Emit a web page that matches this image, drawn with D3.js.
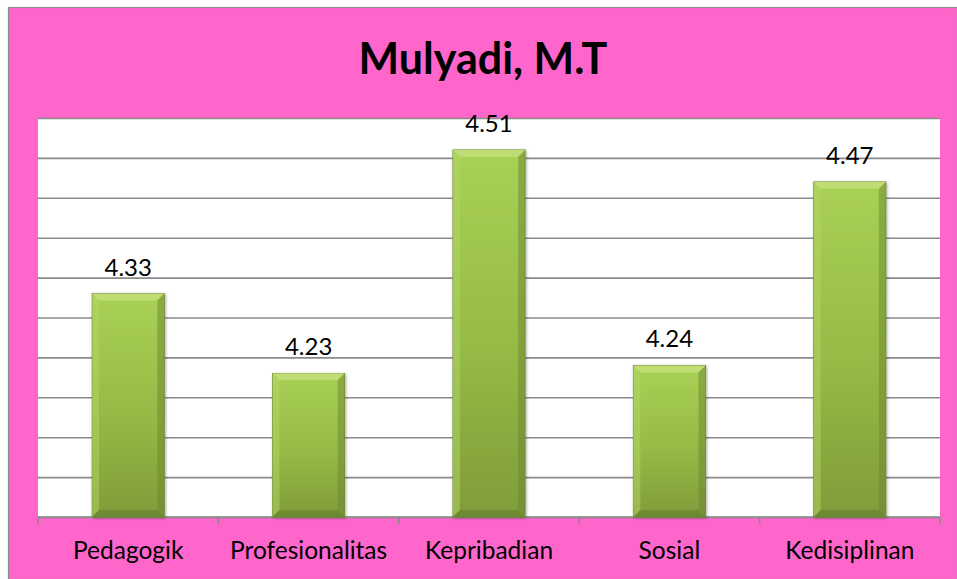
<!DOCTYPE html>
<html>
<head>
<meta charset="utf-8">
<script src="https://cdn.jsdelivr.net/npm/d3@7"></script>
<style>
    body { margin: 0; background: #fff; }
    text { font-family: Lato, "Open Sans", sans-serif; fill: #000; }
</style>
</head>
<body>
<svg id="chart"></svg>
<script>
const categories = ["Pedagogik", "Profesionalitas", "Kepribadian", "Sosial", "Kedisiplinan"];
const scores = [4.33, 4.23, 4.51, 4.24, 4.47];
const gridTicks = [4.05, 4.10, 4.15, 4.20, 4.25, 4.30, 4.35, 4.40, 4.45, 4.50, 4.55];
const chartTitle = "Mulyadi, M.T";

const W = 957, H = 579;
const plot = { left: 38, right: 940, top: 118, bottom: 517 };

const svg = d3.select("#chart")
    .attr("width", W)
    .attr("height", H);

// gradient for bars
const defs = svg.append("defs");
const grad = defs.append("linearGradient")
    .attr("id", "barGrad")
    .attr("x1", 0).attr("y1", 0).attr("x2", 0).attr("y2", 1);
grad.append("stop").attr("offset", "0%").attr("stop-color", "#a9d155");
grad.append("stop").attr("offset", "55%").attr("stop-color", "#95ba45");
grad.append("stop").attr("offset", "100%").attr("stop-color", "#7f9c3a");

const shadow = defs.append("filter").attr("id", "shadow")
    .attr("x", "-20%").attr("y", "-20%").attr("width", "140%").attr("height", "140%");
shadow.append("feDropShadow")
    .attr("dx", 1).attr("dy", 1).attr("stdDeviation", 1.5)
    .attr("flood-color", "#000").attr("flood-opacity", 0.35);

// background
svg.append("rect")
    .attr("x", 8.5).attr("y", 7.5)
    .attr("width", W - 8).attr("height", H - 7)
    .attr("fill", "#ff66cc")
    .attr("stroke", "#8c8c8c")
    .attr("stroke-width", 1.2);

svg.append("text")
    .attr("x", 483)
    .attr("y", 74)
    .attr("text-anchor", "middle")
    .attr("font-size", "43px")
    .attr("font-weight", "bold")
    .text(chartTitle);

svg.append("rect")
    .attr("x", plot.left).attr("y", plot.top)
    .attr("width", plot.right - plot.left)
    .attr("height", plot.bottom - plot.top)
    .attr("fill", "#fff");

let x = d3.scaleBand()
    .domain(categories)
    .range([plot.left, plot.right])
    .padding(0);

let y = d3.scaleLinear()
    .domain([4.05, 4.55])
    .range([plot.bottom, plot.top]);

// gridlines
svg.append("g")
    .attr("transform", "translate(" + plot.left + ",0)")
    .call(d3.axisLeft(y).tickValues(gridTicks).tickSize(-(plot.right - plot.left)).tickFormat(""))
    .call(g => g.select(".domain").remove())
    .call(g => g.selectAll(".tick line")
        .attr("stroke", "#8a8a8a")
        .attr("stroke-width", 1.6));

// x axis
const xAxis = svg.append("g")
    .attr("transform", "translate(0," + plot.bottom + ")");

xAxis.append("line")
    .attr("x1", plot.left).attr("x2", plot.right)
    .attr("stroke", "#8a8a8a")
    .attr("stroke-width", 1.6);

const edges = categories.map(d => x(d)).concat([plot.right]);
xAxis.selectAll(".edge")
    .data(edges)
    .enter()
    .append("line")
    .attr("x1", d => d).attr("x2", d => d)
    .attr("y1", 0).attr("y2", 7)
    .attr("stroke", "#8a8a8a")
    .attr("stroke-width", 1.6);

xAxis.selectAll(".lbl")
    .data(categories)
    .enter()
    .append("text")
    .attr("x", d => x(d) + x.bandwidth() / 2)
    .attr("y", 42)
    .attr("text-anchor", "middle")
    .attr("font-size", "24.5px")
    .text(d => d);

// bars
const barW = x.bandwidth() * 0.4;
const bev = 7;
const data = categories.map((c, i) => ({ cat: c, val: scores[i] }));

const bars = svg.selectAll(".bar")
    .data(data)
    .enter()
    .append("g")
    .attr("class", "bar")
    .attr("transform", d => "translate(" + (x(d.cat) + (x.bandwidth() - barW) / 2) + "," + y(d.val) + ")");

bars.append("rect")
    .attr("width", barW)
    .attr("height", d => plot.bottom - y(d.val))
    .attr("fill", "url(#barGrad)")
    .attr("stroke", "#6f8a33")
    .attr("stroke-width", 0.8)
    .attr("filter", "url(#shadow)");

// bevel pieces
bars.append("polygon")
    .attr("points", d => [[0, 0], [barW, 0], [barW - bev, bev], [bev, bev]].join(" "))
    .attr("fill", "#c4e07c")
    .attr("opacity", 0.8);
bars.append("polygon")
    .attr("points", d => {
        const h = plot.bottom - y(d.val);
        return [[0, 0], [bev, bev], [bev, h - bev], [0, h]].join(" ");
    })
    .attr("fill", "#b3d566")
    .attr("opacity", 0.5);
bars.append("polygon")
    .attr("points", d => {
        const h = plot.bottom - y(d.val);
        return [[barW, 0], [barW - bev, bev], [barW - bev, h - bev], [barW, h]].join(" ");
    })
    .attr("fill", "#6b8530")
    .attr("opacity", 0.5);
bars.append("polygon")
    .attr("points", d => {
        const h = plot.bottom - y(d.val);
        return [[0, h], [bev, h - bev], [barW - bev, h - bev], [barW, h]].join(" ");
    })
    .attr("fill", "#5f772a")
    .attr("opacity", 0.5);

// value labels
svg.selectAll(".val")
    .data(data)
    .enter()
    .append("text")
    .attr("x", d => x(d.cat) + x.bandwidth() / 2)
    .attr("y", d => y(d.val) - 18)
    .attr("text-anchor", "middle")
    .attr("font-size", "24px")
    .text(d => d.val.toFixed(2));
</script>
</body>
</html>
